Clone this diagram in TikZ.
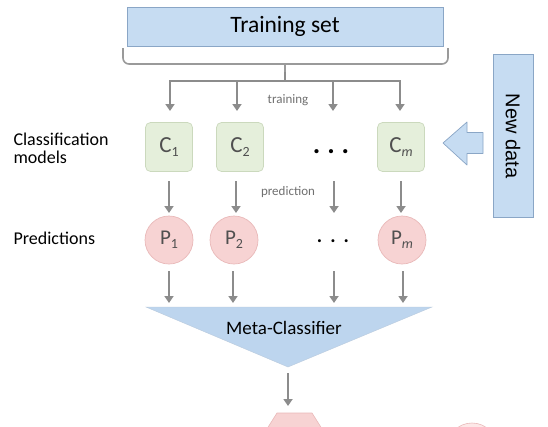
\documentclass[tikz,border=0pt]{standalone}
\usepackage{fontspec}
\setmainfont{Carlito}
\newfontfamily\arialf{Liberation Sans}
\usetikzlibrary{shapes.geometric,arrows.meta,calc}
\definecolor{arrowgray}{HTML}{8C8C8C}
\definecolor{bracegray}{HTML}{9A9A9A}
\definecolor{bluefill}{HTML}{C6DCF2}
\definecolor{blueborder}{HTML}{8AA6C6}
\definecolor{trifill}{HTML}{BDD5EE}
\definecolor{cfill}{HTML}{E5EFDB}
\definecolor{cborder}{HTML}{CBD9BD}
\definecolor{pfill}{HTML}{F7D3D3}
\definecolor{pborder}{HTML}{E9B9B9}
\definecolor{textgray}{HTML}{505050}
\definecolor{labgray}{HTML}{707070}
\newcommand{\lowsub}[1]{\raisebox{-4pt}{\fontsize{14}{16}\selectfont #1}}
\begin{document}
\begin{tikzpicture}[x=1pt,y=-1pt,
  garrow/.style={draw=arrowgray, line width=2.3pt, -{Triangle[width=9pt,length=7pt]}},
  cbox/.style={draw=cborder, fill=cfill, rounded corners=5pt, minimum width=47pt, minimum height=49pt, inner sep=0pt, font=\fontsize{23}{26}\selectfont, text=textgray, line width=0.7pt},
  pcirc/.style={circle, draw=pborder, fill=pfill, minimum size=48pt, inner sep=0pt, font=\fontsize{21}{24}\selectfont, text=textgray, line width=0.7pt},
  sidelab/.style={anchor=west, font=\fontsize{18}{20}\selectfont, align=left, text=black},
  smalllab/.style={font=\fontsize{13}{15}\selectfont, text=labgray},
  dotsstyle/.style={font=\fontsize{28}{30}\selectfont\bfseries, text=black}
]
\useasboundingbox (0,0) rectangle (548,426);
\clip (0,0) rectangle (548,426);
\fill[white] (0,0) rectangle (548,426);

% Training set
\node[draw=blueborder, fill=bluefill, line width=0.8pt, minimum width=316pt, minimum height=39pt, inner sep=0pt, font=\fontsize{23.5}{26}\selectfont] (train) at (285,26.5) {Training set};

% brace
\coordinate (bl) at (123,48);
\coordinate (br) at (448,48);
\coordinate (btip) at (285,72);
\draw[bracegray, line width=1.6pt, rounded corners=6pt] (bl) -- (123,64) -- (285,64) -- (448,64) -- (br);
\draw[bracegray, line width=1.6pt] (285,64) -- (btip);
\coordinate (hl) at (170,81);
\coordinate (hr) at (400,81);
\draw[arrowgray, line width=2.3pt] (btip) -- (285,81);
\draw[arrowgray, line width=2.3pt] (hl) -- (hr);

% C boxes
\node[cbox] (c1) at (169,147) {C\lowsub{1}};
\node[cbox] (c2) at (240,147) {C\lowsub{2}};
\node[cbox] (cm) at (401,147) {C\lowsub{\itshape m}};
\node[dotsstyle] (cdots) at (331,152) {.\hspace{7pt}.\hspace{7pt}.};

% training arrows
\coordinate (t1) at (170,80);
\coordinate (t2) at (237,80);
\coordinate (t3) at (333,80);
\coordinate (t4) at (400,80);
\draw[garrow] (t1) -- (170,111);
\draw[garrow] (t2) -- (237,111);
\draw[garrow] (t3) -- (333,111);
\draw[garrow] (t4) -- (400,111);
\node[smalllab] (trlab) at (288,100) {training};

% side labels
\node[sidelab] (clab) at (10,148) {Classification\\[-2pt]models};
\node[sidelab] (plab) at (10,238) {Predictions};

% P circles
\node[pcirc] (p1) at (169,240) {P\lowsub{1}};
\node[pcirc] (p2) at (234,240) {P\lowsub{2}};
\node[pcirc] (pm) at (402,240) {P\lowsub{\itshape m}};
\node[dotsstyle, font=\fontsize{20}{22}\selectfont\bfseries] (pdots) at (333,241) {.\hspace{8pt}.\hspace{8pt}.};

% prediction arrows
\coordinate (q3) at (334,181);
\draw[garrow] (c1.south |- 0,181) -- (169,213);
\draw[garrow] (236,181) -- (236,213);
\draw[garrow] (q3) -- (334,213);
\draw[garrow] (cm.south |- 0,181) -- (401,213);
\node[smalllab] (prlab) at (288,192) {prediction};

% Meta classifier triangle
\coordinate (ml) at (146,307);
\coordinate (mr) at (432,307);
\coordinate (mapex) at (288,367);
\fill[trifill] (ml) -- (mr) -- (mapex) -- cycle;
\draw[blueborder!60, line width=0.4pt] (ml) -- (mr) -- (mapex) -- cycle;
\node[font=\fontsize{19}{22}\selectfont] (meta) at (284,328) {Meta-Classifier};

% arrows P -> meta
\draw[garrow] (169,271) -- (169,303);
\draw[garrow] (233,271) -- (233,303);
\draw[garrow] (334,271) -- (334,303);
\draw[garrow] (403,271) -- (403,303);

% arrow meta -> final
\coordinate (fin) at (288,373);
\draw[garrow] (fin) -- (288,406);

% bottom partial shapes
\draw[fill=pfill, draw=pborder, line width=0.6pt] (277,413) -- (312,413) -- (324,432) -- (265,432) -- cycle;
\draw[fill=pfill!85!red!30, draw=pborder, line width=0.6pt] (472,448) circle (25);

% New data
\node[draw=blueborder, fill=bluefill, line width=0.8pt, minimum width=163pt, minimum height=40pt, inner sep=0pt, rotate=-90, font=\arialf\fontsize{20}{23}\selectfont] (newdata) at (513,136) {New data};
% block arrow
\coordinate (atip) at (443,143);
\draw[draw=blueborder, fill=bluefill, line width=0.7pt, line join=round]
  (atip) -- (467,122) -- (467,132.5) -- (483,132.5) -- (483,153.5) -- (467,153.5) -- (467,165) -- cycle;
\end{tikzpicture}
\end{document}
